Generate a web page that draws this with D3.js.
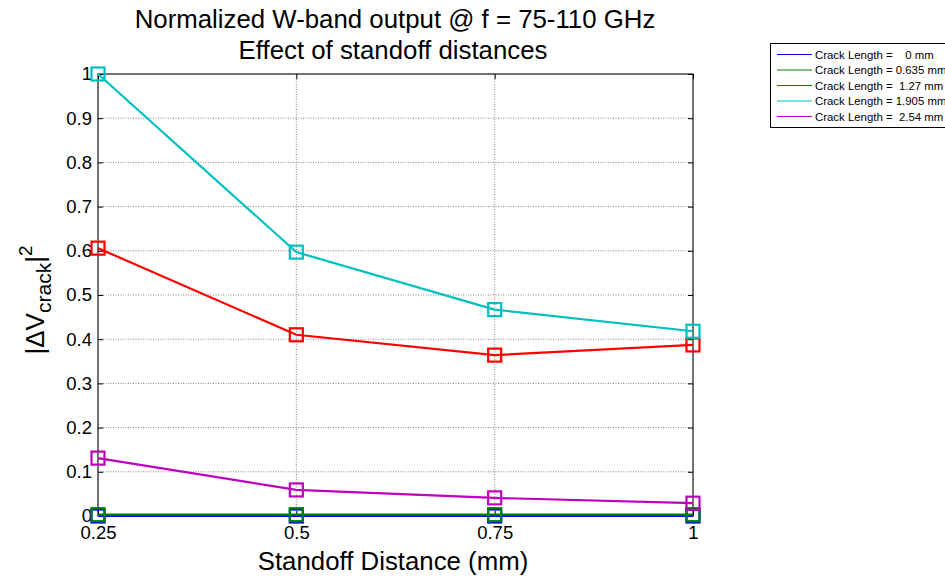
<!DOCTYPE html>
<html><head><meta charset="utf-8">
<script src="https://cdn.jsdelivr.net/npm/d3@7"></script>
<style>body{margin:0;background:#fff}svg{font-family:Arial,"Liberation Sans",sans-serif}</style>
</head><body>
<svg id="c" width="945" height="576"></svg>
<script>
const standoff = [0.25, 0.5, 0.75, 1];
const xTicks = [0.25, 0.5, 0.75, 1];
const yTicks = [0,0.1,0.2,0.3,0.4,0.5,0.6,0.7,0.8,0.9,1];
const seriesNames = ["Crack Length =    0 mm","Crack Length = 0.635 mm","Crack Length =  1.27 mm","Crack Length = 1.905 mm","Crack Length =  2.54 mm"];
const seriesColors = ["#0000ff","#008000","#ff0000","#00bfbf","#bf00bf"];
const crack0 = [0, 0, 0, 0];
const crack0635 = [0.003, 0.003, 0.003, 0.003];
const crack127 = [0.606, 0.410, 0.364, 0.387];
const crack1905 = [1.0, 0.597, 0.467, 0.418];
const crack254 = [0.131, 0.059, 0.041, 0.029];
const seriesValues = [crack0, crack0635, crack127, crack1905, crack254];

const svg = d3.select("#c");
const L=98, R=693, T=74, B=516;
const x = d3.scaleLinear().domain([0.25,1]).range([L,R]);
const y = d3.scaleLinear().domain([0,1]).range([B,T]);

// grid
const g = svg.append("g");
g.selectAll(".gx").data(xTicks).enter().append("line")
 .attr("x1",d=>x(d)).attr("x2",d=>x(d)).attr("y1",T).attr("y2",B)
 .attr("stroke","#777").attr("stroke-width",0.9).attr("stroke-dasharray","1,1.5");
g.selectAll(".gy").data(yTicks).enter().append("line")
 .attr("x1",L).attr("x2",R).attr("y1",d=>y(d)).attr("y2",d=>y(d))
 .attr("stroke","#777").attr("stroke-width",0.9).attr("stroke-dasharray","1,1.5");

// axes
const ax = svg.append("g").attr("transform",`translate(0,${B})`)
 .call(d3.axisBottom(x).tickValues(xTicks).tickFormat(d3.format("")).tickSizeInner(-5).tickSizeOuter(0).tickPadding(10));
const ay = svg.append("g").attr("transform",`translate(${L},0)`)
 .call(d3.axisLeft(y).tickValues(yTicks).tickFormat(d3.format("")).tickSizeInner(-5).tickSizeOuter(0).tickPadding(6));
const at = svg.append("g").attr("transform",`translate(0,${T})`)
 .call(d3.axisTop(x).tickValues(xTicks).tickFormat("").tickSizeInner(-5).tickSizeOuter(0));
const ar = svg.append("g").attr("transform",`translate(${R},0)`)
 .call(d3.axisRight(y).tickValues(yTicks).tickFormat("").tickSizeInner(-5).tickSizeOuter(0));
[ax,ay,at,ar].forEach(a=>{a.select(".domain").remove();a.selectAll("line").attr("stroke","#000");a.selectAll("text").attr("fill","#000").style("font-size","18.5px").style("font-family","Arial, 'Liberation Sans', sans-serif");});
svg.append("rect").attr("x",L).attr("y",T).attr("width",R-L).attr("height",B-T).attr("fill","none").attr("stroke","#000").attr("stroke-width",1);

// series
const line = d3.line().x((d,i)=>x(standoff[i])).y(d=>y(d));
seriesValues.forEach((vals,k)=>{
  const sg = svg.append("g");
  sg.append("path").datum(vals).attr("d",line).attr("fill","none").attr("stroke",seriesColors[k]).attr("stroke-width",2.2);
  sg.selectAll("rect").data(vals).enter().append("rect")
   .attr("x",(d,i)=>x(standoff[i])-6.5).attr("y",d=>y(d)-6.5).attr("width",13).attr("height",13)
   .attr("fill","none").attr("stroke",seriesColors[k]).attr("stroke-width",2.2);
});

// titles
svg.append("text").attr("x",395).attr("y",28).attr("text-anchor","middle").style("font-size","25.8px").text("Normalized W-band output @ f = 75-110 GHz");
svg.append("text").attr("x",393).attr("y",59).attr("text-anchor","middle").style("font-size","25.8px").text("Effect of standoff distances");
svg.append("text").attr("x",393).attr("y",570).attr("text-anchor","middle").style("font-size","25.8px").text("Standoff Distance (mm)");
const yl = svg.append("text").attr("transform","translate(44,300) rotate(-90)").attr("text-anchor","middle").style("font-size","26px");
yl.append("tspan").text("|\u0394V");
yl.append("tspan").attr("dy",7).style("font-size","21px").text("crack");
yl.append("tspan").attr("dy",-7).text("|");
yl.append("tspan").attr("dy",-12).style("font-size","19px").text("2");

// legend
const lg = svg.append("g");
lg.append("rect").attr("x",770.5).attr("y",43.5).attr("width",185).attr("height",84).attr("fill","#fff").attr("stroke","#000").attr("stroke-width",1);
seriesNames.forEach((n,k)=>{
  const yy = 54.5 + k*15.5;
  lg.append("line").attr("x1",777).attr("x2",812).attr("y1",yy).attr("y2",yy).attr("stroke",seriesColors[k]).attr("stroke-width",1);
  lg.append("text").attr("x",815).attr("y",yy+4).style("font-size","11.4px").attr("xml:space","preserve").style("white-space","pre").text(n);
});
</script>
</body></html>
